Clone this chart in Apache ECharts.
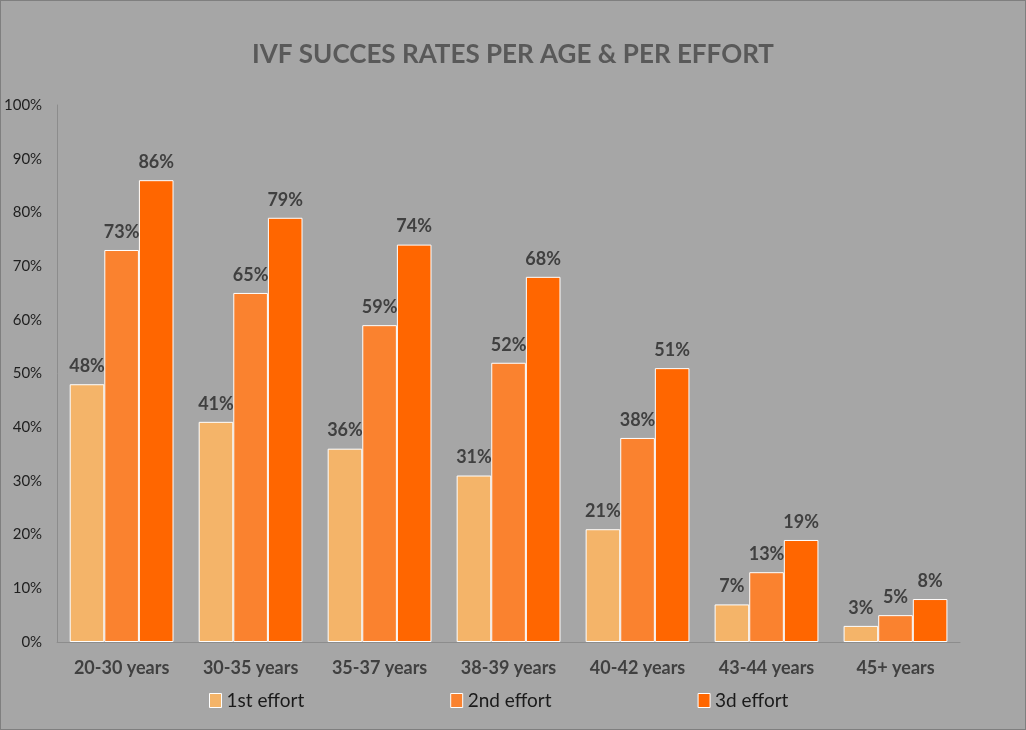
<!DOCTYPE html>
<html><head><meta charset="utf-8">
<script src="https://cdn.jsdelivr.net/npm/echarts@6/dist/echarts.min.js"></script>
<style>
html,body{margin:0;padding:0;background:#a6a6a6;}
#c{width:1024px;height:728px;border:1px solid #7f7f7f;}
</style></head>
<body><div id="c"></div>
<script>
const title = 'IVF SUCCES RATES PER AGE & PER EFFORT';
const categories = ['20-30 years','30-35 years','35-37 years','38-39 years','40-42 years','43-44 years','45+ years'];
const seriesNames = ['1st effort','2nd effort','3d effort'];
const firstEffort = [48,41,36,31,21,7,3];
const secondEffort = [73,65,59,52,38,13,5];
const thirdEffort = [86,79,74,68,51,19,8];
const yTicks = [0,10,20,30,40,50,60,70,80,90,100];
const colors = ['#f4b469','#fa822f','#ff6600'];
const font = 'Lato, "Open Sans", sans-serif';

const chart = echarts.init(document.getElementById('c'));
const mk = (name, data, i) => ({
  name, type:'bar', data,
  barGap:'0%', barCategoryGap:'19.5%',
  itemStyle:{color:colors[i], borderColor:'#ffffff', borderWidth:1},
  label:{show:true, position:'top', distance:9, formatter:p=>p.value+'%',
    color:'#404040', fontWeight:'bold', fontSize:18, fontFamily:font},
  emphasis:{disabled:true}
});
chart.setOption({
  backgroundColor:'#a6a6a6',
  animation:false,
  title:{text:title, left:'center', top:36,
    textStyle:{color:'#595959', fontSize:26, fontWeight:'bold', fontFamily:font}},
  legend:{bottom:14, left:203, itemGap:146, itemWidth:12, itemHeight:14, itemTextGap:5,
    icon:'rect', itemStyle:{borderColor:'#ffffff', borderWidth:1},
    textStyle:{color:'#1a1a1a', fontSize:19, fontFamily:font},
    data:seriesNames},
  grid:{left:55, right:65, top:104, bottom:87, containLabel:false},
  xAxis:{type:'category', data:categories,
    axisLine:{lineStyle:{color:'#8c8c8c'}}, axisTick:{show:false},
    axisLabel:{color:'#404040', fontWeight:'bold', fontSize:18, fontFamily:font, margin:17}},
  yAxis:{type:'value', min:0, max:100, interval:10,
    axisLine:{show:true, lineStyle:{color:'#8c8c8c'}}, axisTick:{show:false},
    splitLine:{show:false},
    axisLabel:{formatter:v=>yTicks.includes(v)?v+'%':'', color:'#1f1f1f', fontSize:15, fontFamily:font, margin:15}},
  series:[mk(seriesNames[0],firstEffort,0), mk(seriesNames[1],secondEffort,1), mk(seriesNames[2],thirdEffort,2)]
});
</script></body></html>
